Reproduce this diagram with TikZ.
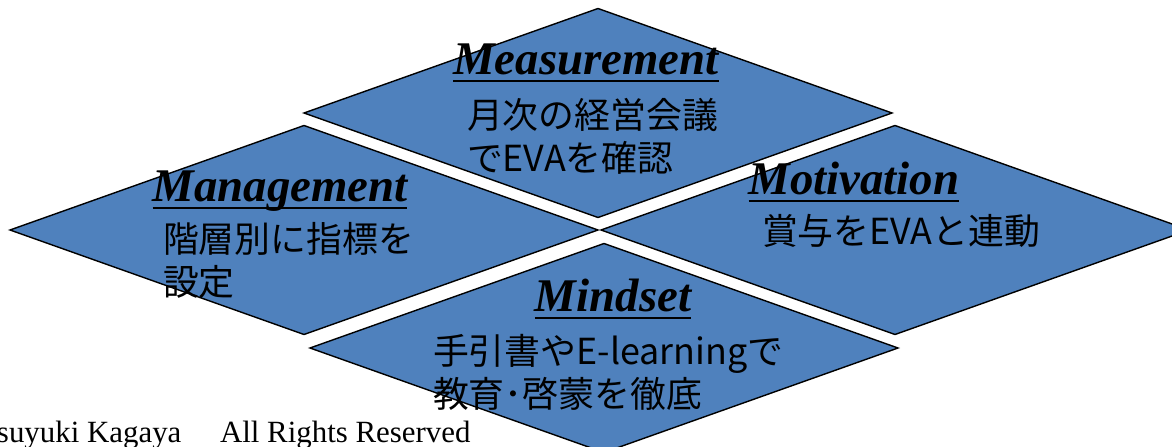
\documentclass[tikz,border=0pt]{standalone}
\usepackage{fontspec}
\setmainfont{Liberation Serif}
\newfontfamily\jpfont{Noto Sans CJK JP}
\usetikzlibrary{shapes.geometric}
\definecolor{plateblue}{RGB}{79,129,189}

\begin{document}
\begin{tikzpicture}
	[x=1bp, y=-1bp,
	every node/.style={inner sep=0pt, outer sep=0pt},
	plate/.style={diamond, draw=black, line width=1.4bp, fill=plateblue, minimum width=588bp, minimum height=209bp},
	head/.style={font=\fontsize{47}{50}\selectfont\bfseries\itshape, anchor=base},
	body/.style={font=\jpfont\fontsize{36}{44}\selectfont, align=left, anchor=base west},
	foot/.style={font=\fontsize{31}{34}\selectfont, anchor=base west}]
	\useasboundingbox (0,0) rectangle (1172,447);
	\node (measurement) [plate] at (598,113) {};
	\node (management) [plate] at (304,230) {};
	\node (motivation) [plate] at (895,230) {};
	\node (mindset) [plate] at (604,348) {};
	% base of a two-line body is its last line
	\node (meashead) [head] at (586,75) {Measurement};
	\node (measbody) [body] at (467,172) {月次の経営会議\\でEVAを確認};
	\node (mgmthead) [head] at (280,202) {Management};
	\node (mgmtbody) [body] at (163,296) {階層別に指標を\\設定};
	\node (motvhead) [head] at (854,195) {Motivation};
	\node (motvbody) [body] at (762,245) {賞与をEVAと連動};
	\node (mindhead) [head] at (613,312) {Mindset};
	\node (mindbody) [body] at (433,408) {手引書やE-learningで\\教育･啓蒙を徹底};
	\foreach \h in {meashead, mgmthead, motvhead, mindhead}
		\draw [line width=2.6bp] ([yshift=-6bp]\h.base west) -- ([yshift=-6bp]\h.base east);
	\node (author) [foot] at (-3,443) {suyuki Kagaya};
	\node (rights) [foot] at (220,443) {All Rights Reserved};
\end{tikzpicture}
\end{document}
